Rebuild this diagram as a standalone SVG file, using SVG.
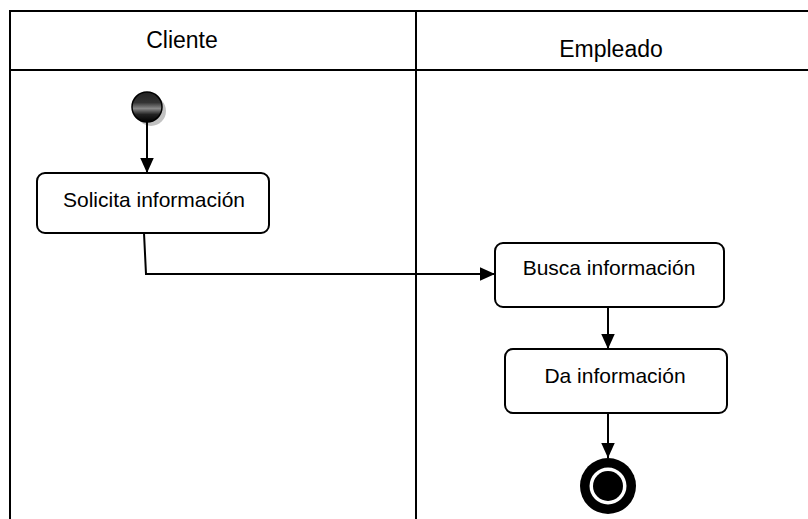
<svg xmlns="http://www.w3.org/2000/svg" width="808" height="519" viewBox="0 0 808 519">
<defs>
<style>
.lane{stroke:#000;stroke-width:2;fill:none}
.node{fill:#fff;stroke:#000;stroke-width:2}
.lbl{font-family:"Liberation Sans",Arial,sans-serif;font-size:21px;fill:#000;text-anchor:middle}
.hdr{font-family:"Liberation Sans",Arial,sans-serif;font-size:23px;fill:#000;text-anchor:middle}
.edge{stroke:#000;stroke-width:2;fill:none;marker-end:url(#ah)}
</style>
<marker id="ah" viewBox="0 0 10 10" refX="10" refY="5" markerWidth="15" markerHeight="15" markerUnits="userSpaceOnUse" orient="auto">
<path d="M0,0.5 L10,5 L0,9.5 z" fill="#000"/>
</marker>
<linearGradient id="sg" x1="0" y1="0" x2="0" y2="1">
<stop offset="0" stop-color="#222"/>
<stop offset="0.35" stop-color="#333"/>
<stop offset="0.55" stop-color="#888"/>
<stop offset="0.75" stop-color="#222"/>
<stop offset="1" stop-color="#000"/>
</linearGradient>
</defs>
<rect width="808" height="519" fill="#fff"/>
<g id="lanes">
<path class="lane" d="M10,519 V11 H808"/>
<path class="lane" d="M10,70 H808"/>
<path class="lane" d="M416,11 V519"/>
<text class="hdr" x="182" y="48">Cliente</text>
<text class="hdr" x="611" y="57">Empleado</text>
</g>
<g id="start">
<circle cx="151" cy="111" r="15" fill="#999" opacity="0.6"/>
<circle cx="147" cy="107" r="15" fill="url(#sg)" stroke="#000" stroke-width="1.5"/>
</g>
<g id="solicita">
<rect class="node" x="37" y="173" width="232" height="60" rx="8"/>
<text class="lbl" x="154" y="207">Solicita información</text>
</g>
<g id="busca">
<rect class="node" x="495" y="243" width="229" height="64" rx="8"/>
<text class="lbl" x="609" y="275">Busca información</text>
</g>
<g id="da">
<rect class="node" x="505" y="349" width="222" height="64" rx="8"/>
<text class="lbl" x="615" y="383">Da información</text>
</g>
<g id="end">
<circle cx="608" cy="486" r="28" fill="#000"/>
<circle cx="608" cy="486" r="18.5" fill="#fff"/>
<circle cx="608" cy="486" r="15" fill="#000"/>
</g>
<g id="connectors">
<path class="edge" d="M147,122 V173"/>
<path class="edge" d="M144,233 L146,274 H495"/>
<path class="edge" d="M608,307 V349"/>
<path class="edge" d="M608,413 V458"/>
</g>
</svg>
